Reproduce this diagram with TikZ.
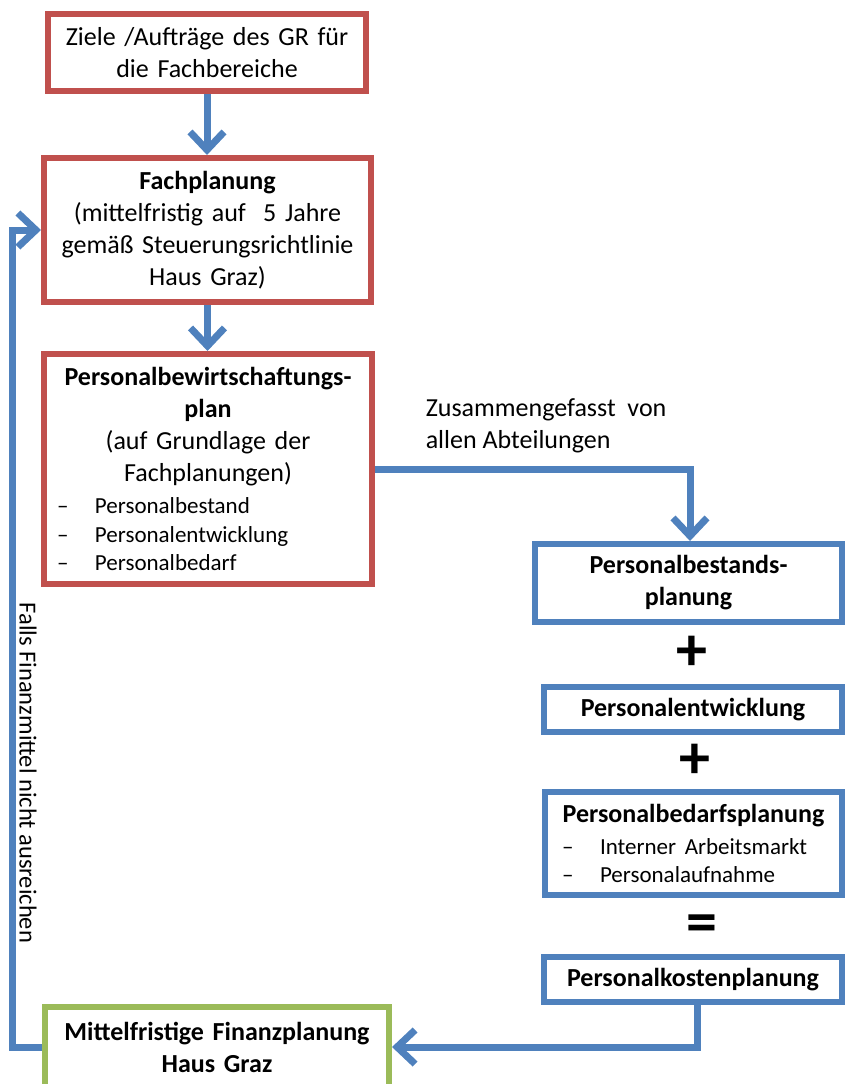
\documentclass[tikz,border=0pt]{standalone}
\usepackage{fontspec}
\setmainfont{Carlito}
\usetikzlibrary{arrows.meta,positioning,calc}

\definecolor{boxred}{HTML}{C0504D}
\definecolor{boxblue}{HTML}{4F81BD}
\definecolor{boxgreen}{HTML}{9BBB59}

\newcommand{\hauptschrift}{\fontsize{26}{32}\selectfont}
\newcommand{\listschrift}{\fontsize{23}{28.5}\selectfont}
\newcommand{\listpunkt}[2][10pt]{\hspace*{#1}\makebox[38pt][l]{--}#2}

\begin{document}
\begin{tikzpicture}[
    x=1pt, y=-1pt,
    box/.style={draw, line width=6pt, fill=white, inner xsep=3pt, inner ysep=0pt, align=center, font=\hauptschrift},
    rotbox/.style={box, draw=boxred},
    blaubox/.style={box, draw=boxblue},
    gruenbox/.style={box, draw=boxgreen},
    pfeil/.style={draw=boxblue, line width=7pt, -{Straight Barb[length=18pt, width=34pt]}},
    zeichen/.style={font=\fontsize{62}{62}\selectfont\bfseries, inner sep=0pt},
    etikett/.style={font=\fontsize{26}{32}\selectfont, align=left, inner sep=0pt}
]
    \useasboundingbox (0,0) rectangle (845,1084);

    % Linke Spalte
    \node[rotbox, minimum width=318pt, minimum height=77pt, text width=312pt] (ziele) at (207,52.5)
        {Ziele /Aufträge des GR für\\die Fachbereiche};
    \node[rotbox, minimum width=327pt, minimum height=144pt, text width=321pt] (fach) at (207.5,230)
        {\textbf{Fachplanung}\\(mittelfristig auf\ \ 5 Jahre\\gemäß Steuerungsrichtlinie\\Haus Graz)};
    \node[rotbox, minimum width=328pt, minimum height=230pt, text width=322pt] (pbw) at (208,469)
        {\textbf{Personalbewirtschaftungs-}\\\textbf{plan}\\(auf Grundlage der\\Fachplanungen)\\
         \parbox[t]{\hsize}{\listschrift\raggedright
            \listpunkt{Personalbestand}\\
            \listpunkt{Personalentwicklung}\\
            \listpunkt{Personalbedarf}}};
    \node[gruenbox, minimum width=344pt, minimum height=80pt, text width=338pt, font=\hauptschrift\bfseries] (finanz) at (217,1047)
        {Mittelfristige Finanzplanung\\Haus Graz};

    % Rechte Spalte
    \node[blaubox, minimum width=307pt, minimum height=78pt, text width=301pt, font=\hauptschrift\bfseries] (bestand) at (688.5,583)
        {Personalbestands-\\planung};
    \node[zeichen] (plus1) at (692,653) {+};
    \node[blaubox, minimum width=298pt, minimum height=45pt, text width=292pt, font=\hauptschrift\bfseries] (entw) at (693,709.5)
        {Personalentwicklung};
    \node[zeichen] (plus2) at (695,761) {+};
    \node[blaubox, minimum width=297pt, minimum height=103pt, text width=291pt] (bedarf) at (693.5,843.5)
        {\textbf{Personalbedarfsplanung}\\
         \parbox[t]{\hsize}{\listschrift\raggedright
            \listpunkt[14pt]{Interner Arbeitsmarkt}\\
            \listpunkt[14pt]{Personalaufnahme}}};
    \node[zeichen] (gleich) at (702,929) {=};
    \node[blaubox, minimum width=298pt, minimum height=45pt, text width=292pt, font=\hauptschrift\bfseries] (kosten) at (693,979.5)
        {Personalkostenplanung};

    % Verbindungen
    \draw[pfeil] (ziele.south) -- (ziele.south |- fach.north);
    \draw[pfeil] (fach.south) -- (fach.south |- pbw.north);
    \draw[pfeil] (pbw.east) -| node[pos=0.075, anchor=south west, etikett, yshift=13pt]
        {Zusammengefasst\ \ von\\allen Abteilungen} ($(bestand.north)+(1.5,0)$);
    \draw[pfeil] ($(kosten.south)+(4,0)$) |- (finanz.east);
    \draw[pfeil] (finanz.west) -- ++(-29.5,0) |- (fach.west);

    % Rueckkopplung
    \node[etikett, rotate=-90, font=\fontsize{24.5}{30}\selectfont] (falls) at (28,773) {Falls Finanzmittel nicht ausreichen};
\end{tikzpicture}
\end{document}
